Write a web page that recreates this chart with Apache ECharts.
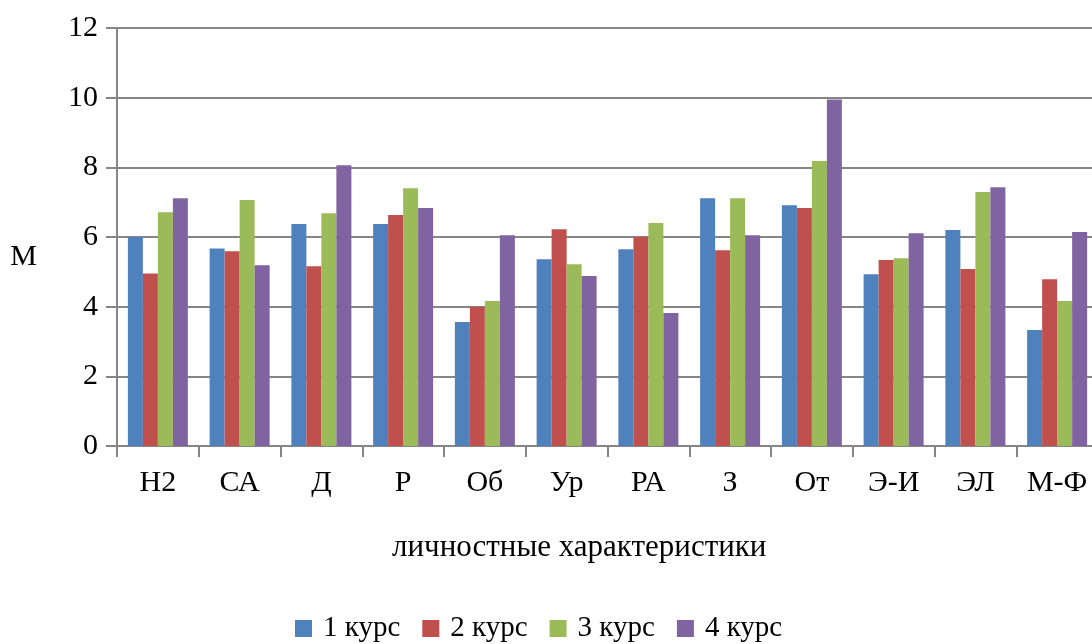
<!DOCTYPE html>
<html>
<head>
<meta charset="utf-8">
<script src="https://cdn.jsdelivr.net/npm/echarts@6/dist/echarts.min.js"></script>
<style>
html,body{margin:0;padding:0;overflow:hidden;background:#fff;}
#c{width:1100px;height:644px;}
</style>
</head>
<body>
<div id="c"></div>
<script>
const categories = ['Н2','СА','Д','Р','Об','Ур','РА','З','От','Э-И','ЭЛ','М-Ф'];
const course1 = [6.0, 5.67, 6.37, 6.37, 3.56, 5.36, 5.65, 7.11, 6.91, 4.93, 6.20, 3.33];
const course2 = [4.95, 5.59, 5.16, 6.63, 4.0, 6.22, 6.0, 5.62, 6.83, 5.34, 5.08, 4.79];
const course3 = [6.71, 7.06, 6.68, 7.40, 4.16, 5.22, 6.40, 7.11, 8.18, 5.39, 7.29, 4.16];
const course4 = [7.11, 5.19, 8.06, 6.83, 6.05, 4.88, 3.82, 6.05, 9.95, 6.11, 7.43, 6.14];
const seriesNames = ['1 курс','2 курс','3 курс','4 курс'];
const yTicks = {min: 0, max: 12, interval: 2};

const colors = ['#4F81BD','#C0504D','#9BBB59','#8064A2'];
const font = '"Liberation Serif","Times New Roman",serif';
const chart = echarts.init(document.getElementById('c'), null, {renderer:'canvas'});
const data = [course1, course2, course3, course4];
chart.setOption({
  animation: false,
  color: colors,
  textStyle: {fontFamily: font, color: '#000'},
  title: {
    text: 'личностные характеристики',
    left: 387, top: 527,
    textStyle: {fontFamily: font, fontSize: 31, fontWeight: 'normal', color: '#000'}
  },
  legend: {
    data: seriesNames,
    left: 290, top: 609,
    itemWidth: 17, itemHeight: 17, itemGap: 22,
    icon: 'rect',
    textStyle: {fontFamily: font, fontSize: 29, color: '#000', padding: [0, 0, 0, 6]}
  },
  grid: {left: 117, top: 28, width: 981, bottom: 198, containLabel: false},
  xAxis: {
    type: 'category',
    data: categories,
    axisLine: {lineStyle: {color: '#868686', width: 2}},
    axisTick: {show: true, alignWithLabel: false, length: 11, lineStyle: {color: '#868686', width: 2}},
    axisLabel: {fontFamily: font, fontSize: 30, color: '#000', margin: 22, interval: 0}
  },
  yAxis: {
    type: 'value',
    min: yTicks.min, max: yTicks.max, interval: yTicks.interval,
    name: 'М',
    nameLocation: 'middle',
    nameRotate: 0,
    nameGap: 80,
    nameTextStyle: {fontFamily: font, fontSize: 30, color: '#000', verticalAlign: 'top', lineHeight: 40},
    axisLine: {show: true, lineStyle: {color: '#868686', width: 2}},
    axisTick: {show: true, length: 11, lineStyle: {color: '#868686', width: 2}},
    splitLine: {lineStyle: {color: '#868686', width: 2}},
    axisLabel: {fontFamily: font, fontSize: 30, color: '#000', margin: 19}
  },
  series: seriesNames.map((n, i) => ({
    name: n,
    type: 'bar',
    data: data[i],
    barWidth: 15,
    barGap: '0%',
    barCategoryGap: '27%',
    itemStyle: {color: colors[i]}
  }))
});
</script>
</body>
</html>
